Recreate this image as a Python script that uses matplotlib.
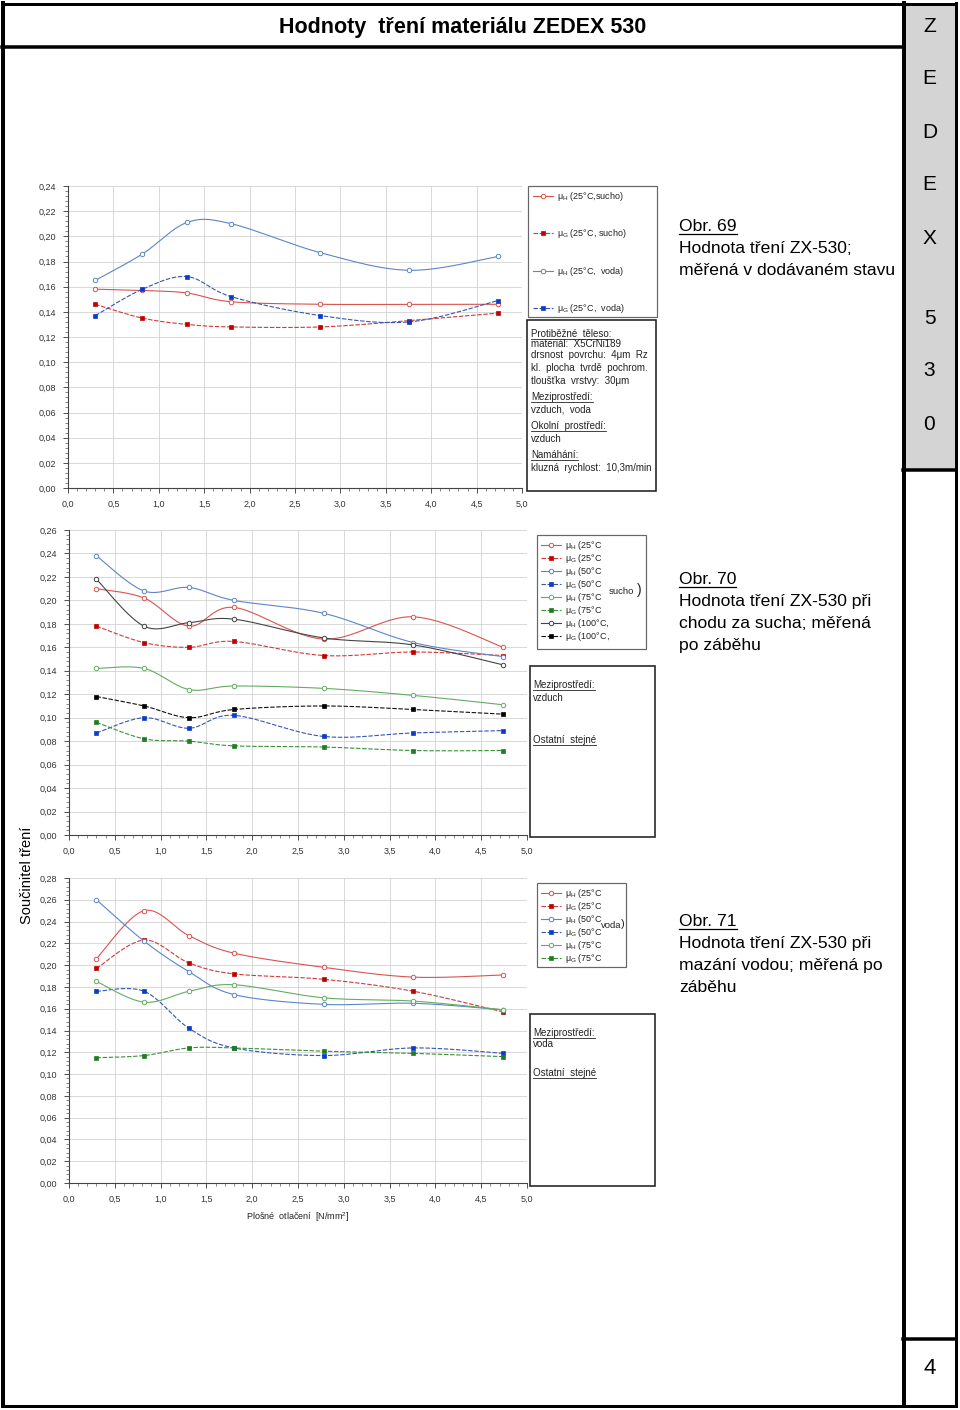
import numpy as np
import matplotlib
matplotlib.use('Agg')
import matplotlib.pyplot as plt
from matplotlib.patches import Rectangle
from matplotlib.legend_handler import HandlerTuple
from matplotlib.ticker import MultipleLocator, FuncFormatter

W, H = 960, 1410
plt.rcParams['font.family'] = ['Liberation Sans', 'DejaVu Sans']
plt.rcParams['mathtext.fontset'] = 'custom'
plt.rcParams['mathtext.rm'] = 'Liberation Sans'
plt.rcParams['mathtext.it'] = 'Liberation Sans:italic'

# ---------------- data ----------------
x_load = [0.30, 0.82, 1.31, 1.80, 2.78, 3.76, 4.74]

# chart 1 (Obr. 69)
c1_muH_25_sucho = [0.158, 0.157, 0.155, 0.148, 0.146, 0.146, 0.146]
c1_muG_25_sucho = [0.146, 0.135, 0.130, 0.128, 0.128, 0.133, 0.139]
c1_muH_25_voda = [0.165, 0.186, 0.211, 0.210, 0.187, 0.173, 0.184]
c1_muG_25_voda = [0.137, 0.158, 0.168, 0.152, 0.137, 0.132, 0.149]
c1_labels = ['μ$_\\mathrm{H}$ (25°C,sucho)', 'μ$_\\mathrm{G}$ (25°C, sucho)',
             'μ$_\\mathrm{H}$ (25°C,  voda)', 'μ$_\\mathrm{G}$ (25°C,  voda)']

# chart 2 (Obr. 70)
c2_muH_25 = [0.210, 0.202, 0.178, 0.194, 0.167, 0.186, 0.160]
c2_muG_25 = [0.178, 0.164, 0.160, 0.165, 0.153, 0.156, 0.153]
c2_muH_50 = [0.238, 0.208, 0.211, 0.200, 0.189, 0.164, 0.152]
c2_muG_50 = [0.087, 0.100, 0.091, 0.102, 0.084, 0.087, 0.089]
c2_muH_75 = [0.142, 0.142, 0.124, 0.127, 0.125, 0.119, 0.111]
c2_muG_75 = [0.096, 0.082, 0.080, 0.076, 0.075, 0.072, 0.072]
c2_muH_100 = [0.218, 0.178, 0.181, 0.184, 0.168, 0.162, 0.145]
c2_muG_100 = [0.118, 0.110, 0.100, 0.107, 0.110, 0.107, 0.103]
c2_labels = ['μ$_\\mathrm{H}$ (25°C', 'μ$_\\mathrm{G}$ (25°C', 'μ$_\\mathrm{H}$ (50°C',
             'μ$_\\mathrm{G}$ (50°C', 'μ$_\\mathrm{H}$ (75°C', 'μ$_\\mathrm{G}$ (75°C',
             'μ$_\\mathrm{H}$ (100°C,', 'μ$_\\mathrm{G}$ (100°C,']

# chart 3 (Obr. 71)
c3_muH_25 = [0.206, 0.250, 0.227, 0.211, 0.198, 0.189, 0.191]
c3_muG_25 = [0.197, 0.223, 0.202, 0.192, 0.187, 0.176, 0.157]
c3_muH_50 = [0.260, 0.222, 0.194, 0.173, 0.164, 0.165, 0.159]
c3_muG_50 = [0.176, 0.176, 0.142, 0.124, 0.117, 0.124, 0.119]
c3_muH_75 = [0.185, 0.166, 0.176, 0.182, 0.170, 0.167, 0.159]
c3_muG_75 = [0.115, 0.117, 0.124, 0.124, 0.121, 0.119, 0.116]
c3_labels = c2_labels[:6]

# ---------------- styles ----------------
RED_H, RED_G, RED_GM = '#d9534f', '#d03a3a', '#c00000'
BLU_H, BLU_G, BLU_GM = '#5b86c6', '#3457b5', '#0b3cc8'
GRN_H, GRN_G, GRN_GM = '#62ad62', '#3a8f3a', '#1e7d1e'
BLK_H, BLK_G, BLK_GM = '#444444', '#111111', '#000000'

fig = plt.figure(figsize=(W / 100, H / 100), dpi=100)
fig.patch.set_facecolor('white')

ov = fig.add_axes([0, 0, 1, 1])
ov.set_xlim(0, W)
ov.set_ylim(H, 0)
ov.axis('off')


def px_axes(x0, y0, x1, y1):
    return fig.add_axes([x0 / W, 1 - y1 / H, (x1 - x0) / W, (y1 - y0) / H])


def bezier_smooth(x, y, n=24):
    P = np.column_stack([x, y]).astype(float)
    m = len(P)
    out = [P[0]]
    t = np.linspace(0, 1, n)[1:, None]
    for i in range(m - 1):
        p0 = P[i - 1] if i > 0 else P[i]
        p1, p2 = P[i], P[i + 1]
        p3 = P[i + 2] if i + 2 < m else P[i + 1]
        c1 = p1 + (p2 - p0) / 6
        c2 = p2 - (p3 - p1) / 6
        seg = (1 - t) ** 3 * p1 + 3 * (1 - t) ** 2 * t * c1 + 3 * (1 - t) * t ** 2 * c2 + t ** 3 * p2
        out.extend(seg)
    out = np.array(out)
    return out[:, 0], out[:, 1]


def plot_series(ax, y, color, mcolor, kind):
    xs, ys = bezier_smooth(x_load, y)
    if kind == 'H':
        l, = ax.plot(xs, ys, color=color, lw=0.8)
        m, = ax.plot(x_load, y, ls='none', marker='o', ms=3.2, mfc='white', mec=color, mew=0.7)
    else:
        l, = ax.plot(xs, ys, color=color, lw=0.8, ls=(0, (4, 1.5)))
        m, = ax.plot(x_load, y, ls='none', marker='s', ms=3.2, mfc=mcolor, mec=mcolor, mew=0.5)
    return (l, m)


def style_axes(ax, ymax):
    ax.set_xlim(0, 5)
    ax.set_ylim(0, ymax)
    ax.xaxis.set_major_locator(MultipleLocator(0.5))
    ax.xaxis.set_minor_locator(MultipleLocator(0.1))
    ax.yaxis.set_major_locator(MultipleLocator(0.02))
    ax.yaxis.set_minor_locator(MultipleLocator(0.004))
    ax.xaxis.set_major_formatter(FuncFormatter(lambda v, p: f'{v:.1f}'.replace('.', ',')))
    ax.yaxis.set_major_formatter(FuncFormatter(lambda v, p: f'{v:.2f}'.replace('.', ',')))
    ax.tick_params(which='major', length=3.5, width=0.6, labelsize=6.5, colors='#333333', pad=5)
    ax.tick_params(which='minor', length=2, width=0.5, colors='#555555')
    ax.grid(True, which='major', color='#d2d2d2', lw=0.6)
    for s in ['top', 'right']:
        ax.spines[s].set_visible(False)
    for s in ['left', 'bottom']:
        ax.spines[s].set_color('#444444')
        ax.spines[s].set_linewidth(0.8)
    ax.set_axisbelow(True)


def make_legend(ax, handles, labels, x, y, spacing):
    leg = ax.legend(handles, labels, loc='upper left', bbox_to_anchor=(x / W, 1 - y / H),
                    bbox_transform=fig.transFigure, frameon=False, fontsize=6.5,
                    handlelength=2.2, handletextpad=0.45, labelspacing=spacing,
                    borderpad=0, borderaxespad=0, numpoints=1,
                    handler_map={tuple: HandlerTuple(ndivide=1)})
    for t in leg.get_texts():
        t.set_color('#222222')
    return leg


# ---------------- chart 1 ----------------
ax1 = px_axes(68, 186, 522, 488)
style_axes(ax1, 0.24)
h1 = [plot_series(ax1, c1_muH_25_sucho, RED_H, RED_GM, 'H'),
      plot_series(ax1, c1_muG_25_sucho, RED_G, RED_GM, 'G'),
      plot_series(ax1, c1_muH_25_voda, BLU_H, BLU_GM, 'H'),
      plot_series(ax1, c1_muG_25_voda, BLU_G, BLU_GM, 'G')]
make_legend(ax1, h1, c1_labels, 533, 190, 2.7)

# ---------------- chart 2 ----------------
ax2 = px_axes(69, 530, 527, 835)
style_axes(ax2, 0.26)
h2 = [plot_series(ax2, c2_muH_25, RED_H, RED_GM, 'H'),
      plot_series(ax2, c2_muG_25, RED_G, RED_GM, 'G'),
      plot_series(ax2, c2_muH_50, BLU_H, BLU_GM, 'H'),
      plot_series(ax2, c2_muG_50, BLU_G, BLU_GM, 'G'),
      plot_series(ax2, c2_muH_75, GRN_H, GRN_GM, 'H'),
      plot_series(ax2, c2_muG_75, GRN_G, GRN_GM, 'G'),
      plot_series(ax2, c2_muH_100, BLK_H, BLK_GM, 'H'),
      plot_series(ax2, c2_muG_100, BLK_G, BLK_GM, 'G')]
make_legend(ax2, h2, c2_labels, 541, 539, 0.0)

# ---------------- chart 3 ----------------
ax3 = px_axes(69, 878, 527, 1183)
style_axes(ax3, 0.28)
h3 = [plot_series(ax3, c3_muH_25, RED_H, RED_GM, 'H'),
      plot_series(ax3, c3_muG_25, RED_G, RED_GM, 'G'),
      plot_series(ax3, c3_muH_50, BLU_H, BLU_GM, 'H'),
      plot_series(ax3, c3_muG_50, BLU_G, BLU_GM, 'G'),
      plot_series(ax3, c3_muH_75, GRN_H, GRN_GM, 'H'),
      plot_series(ax3, c3_muG_75, GRN_G, GRN_GM, 'G')]
make_legend(ax3, h3, c3_labels, 541, 887, 0.0)
ax3.set_xlabel('Plošné  otlačení  [N/mm$^2$]', fontsize=6.5, color='#222222', labelpad=5)

# ---------------- page frame ----------------
def hline(y, x0, x1, lw_px):
    ov.plot([x0, x1], [y, y], color='black', lw=lw_px * 0.72, solid_capstyle='projecting')


def vline(x, y0, y1, lw_px):
    ov.plot([x, x], [y0, y1], color='black', lw=lw_px * 0.72, solid_capstyle='projecting')


ov.add_patch(Rectangle((903, 3), 53, 467, facecolor='#d4d4d4', edgecolor='none'))
vline(2.5, 3, 1406, 4)
vline(956, 3, 1406, 3)
hline(3.5, 2, 956, 3)
hline(1405.5, 2, 956, 3)
vline(903.5, 3, 1406, 4)
hline(47, 2, 903, 3.5)
hline(470, 903, 956, 3.5)
hline(1339, 903, 956, 3.5)

ov.text(463, 27, 'Hodnoty  tření materiálu ZEDEX 530', ha='center', va='center',
        fontsize=15.5, fontweight='bold', family=['Liberation Sans Narrow', 'Liberation Sans'])
for ch, yy in zip('ZEDEX530', [25, 78, 131, 184, 237, 317, 370, 423]):
    ov.text(929.5, yy + 1, ch, ha='center', va='center', fontsize=15)
ov.text(929.5, 1368, '4', ha='center', va='center', fontsize=16)

# boxes
def box(x0, y0, x1, y1, ec, lw_px):
    ov.add_patch(Rectangle((x0, y0), x1 - x0, y1 - y0, facecolor='none', edgecolor=ec, lw=lw_px * 0.72))


box(528, 186, 657, 317, '#666666', 1.2)
box(527, 320, 656, 491, '#222222', 1.6)
box(537, 535, 646, 649, '#666666', 1.2)
box(530, 666, 655, 837, '#222222', 1.6)
box(537, 883, 626, 967, '#666666', 1.2)
box(530, 1014, 655, 1186, '#222222', 1.6)

ov.text(609, 591, 'sucho', fontsize=6.8, va='center', color='#222222')
ov.text(637, 590, ')', fontsize=10, va='center', color='#222222')
ov.text(601, 925, 'voda', fontsize=6.8, va='center', color='#222222')
ov.text(621, 924, ')', fontsize=8, va='center', color='#222222')

underlined = []


def info(x, y, s, ul=False):
    t = ov.text(x, y, s, fontsize=7, va='baseline', color='#222222')
    if ul:
        underlined.append((t, y))


info(531, 337, 'Protiběžné  těleso:', True)
info(531, 347, 'materiál:  X5CrNi189')
info(531, 358, 'drsnost  povrchu:  4μm  Rz')
info(531, 371, 'kl.  plocha  tvrdě  pochrom.')
info(531, 384, 'tloušťka  vrstvy:  30μm')
info(531, 400, 'Meziprostředí:', True)
info(531, 413, 'vzduch,  voda')
info(531, 429, 'Okolní  prostředí:', True)
info(531, 442, 'vzduch')
info(531, 458, 'Namáhání:', True)
info(531, 471, 'kluzná  rychlost:  10,3m/min')

info(533, 688, 'Meziprostředí:', True)
info(533, 701, 'vzduch')
info(533, 743, 'Ostatní  stejné', True)

info(533, 1036, 'Meziprostředí:', True)
info(533, 1047, 'voda')
info(533, 1076, 'Ostatní  stejné', True)

ov.text(27, 875, 'Součinitel tření', rotation=90, ha='center', va='center', fontsize=10.5)

# captions
cap_underlined = []
CAP_FS = 12.6


def caption(y0, lines):
    t = ov.text(679, y0, lines[0], fontsize=CAP_FS, va='baseline')
    cap_underlined.append((t, y0))
    for i, s in enumerate(lines[1:]):
        ov.text(679, y0 + 22 * (i + 1), s, fontsize=CAP_FS, va='baseline')


caption(231, ['Obr. 69', 'Hodnota tření ZX-530;', 'měřená v dodávaném stavu'])
caption(584, ['Obr. 70', 'Hodnota tření ZX-530 při', 'chodu za sucha; měřená', 'po záběhu'])
caption(926, ['Obr. 71', 'Hodnota tření ZX-530 při', 'mazání vodou; měřená po', 'záběhu'])

fig.canvas.draw()
r = fig.canvas.get_renderer()
for t, yb in underlined:
    bb = t.get_window_extent(r)
    ov.plot([bb.x0, bb.x1], [yb + 1.5, yb + 1.5], color='#222222', lw=0.6)
for t, yb in cap_underlined:
    bb = t.get_window_extent(r)
    ov.plot([bb.x0, bb.x1], [yb + 2.5, yb + 2.5], color='black', lw=0.9)

fig.savefig('out.png', dpi=100)
